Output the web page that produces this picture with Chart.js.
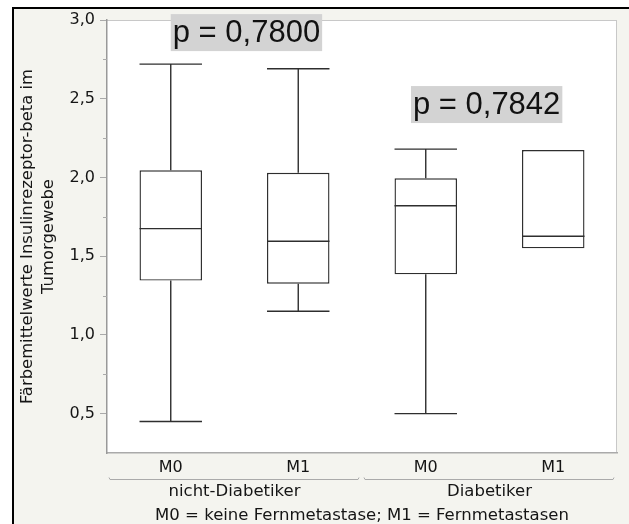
<!DOCTYPE html>
<html>
<head>
<meta charset="utf-8">
<script src="https://cdn.jsdelivr.net/npm/chart.js@4/dist/chart.umd.min.js"></script>
<style>
  html, body { margin: 0; padding: 0; background: #fff; }
  #frame {
    position: absolute; left: 12px; top: 7px; width: 617px; height: 517px;
    box-sizing: border-box; border-left: 2px solid #000; border-top: 2px solid #000;
    background: #f4f4ef;
  }
  #chart { position: absolute; left: 0; top: 0; }
</style>
</head>
<body>
<div id="frame"></div>
<canvas id="chart" width="629" height="524"></canvas>
<script>
const categories = ['M0', 'M1', 'M0', 'M1'];
const groups = ['nicht-Diabetiker', 'Diabetiker'];
const mins    = [0.45, 1.15, 0.50, 1.55];
const q1s     = [1.345, 1.325, 1.385, 1.55];
const medians = [1.675, 1.595, 1.82, 1.627];
const q3s     = [2.045, 2.03, 1.995, 2.174];
const maxs    = [2.72, 2.69, 2.18, 2.174];
const pLabels = ['p = 0,7800', 'p = 0,7842'];
const yTitle = ['Färbemittelwerte Insulinrezeptor-beta im', 'Tumorgewebe'];
const footer = 'M0 = keine Fernmetastase; M1 = Fernmetastasen';

Chart.defaults.font.family = '"DejaVu Sans", sans-serif';
Chart.defaults.font.size = 16;
Chart.defaults.color = '#151515';

const boxColor = '#2e2e2e';

function line(ctx, x1, y1, x2, y2) {
  ctx.beginPath();
  ctx.moveTo(x1, y1);
  ctx.lineTo(x2, y2);
  ctx.stroke();
}

// white plot area + light top/right frame
const plotBackground = {
  id: 'plotBackground',
  beforeDraw(chart) {
    const {ctx, chartArea: a} = chart;
    ctx.save();
    ctx.fillStyle = '#fff';
    ctx.fillRect(a.left, a.top, a.right - a.left, a.bottom - a.top);
    ctx.strokeStyle = '#c8c8c8';
    ctx.lineWidth = 1;
    line(ctx, a.left, a.top + 0.5, a.right, a.top + 0.5);
    line(ctx, a.right - 0.5, a.top, a.right - 0.5, a.bottom);
    ctx.restore();
  }
};

// whiskers, caps, medians, minor y ticks, group brackets, p labels
const boxPlotExtras = {
  id: 'boxPlotExtras',
  afterDatasetsDraw(chart) {
    const {ctx, scales: {x, y}} = chart;
    const bars = chart.getDatasetMeta(0).data;
    ctx.save();
    ctx.strokeStyle = boxColor;
    ctx.lineWidth = 1.4;
    bars.forEach((bar, i) => {
      const cx = x.getPixelForValue(i);
      const half = bar.width / 2;
      const yMed = y.getPixelForValue(medians[i]);
      line(ctx, cx - half, yMed, cx + half, yMed);
      if (maxs[i] > q3s[i]) {
        const yMax = y.getPixelForValue(maxs[i]);
        line(ctx, cx, y.getPixelForValue(q3s[i]), cx, yMax);
        line(ctx, cx - half, yMax, cx + half, yMax);
      }
      if (mins[i] < q1s[i]) {
        const yMin = y.getPixelForValue(mins[i]);
        line(ctx, cx, y.getPixelForValue(q1s[i]), cx, yMin);
        line(ctx, cx - half, yMin, cx + half, yMin);
      }
    });
    ctx.restore();
  },
  afterDraw(chart) {
    const {ctx, scales: {x, y, x2}} = chart;
    ctx.save();
    // minor ticks
    ctx.strokeStyle = '#aaa';
    ctx.lineWidth = 1;
    for (let v = 0.75; v < 3; v += 0.5) {
      const py = Math.round(y.getPixelForValue(v)) + 0.5;
      line(ctx, y.right - 4, py, y.right, py);
    }
    // group brackets
    const step = x.getPixelForValue(1) - x.getPixelForValue(0);
    const by = x2.top + 3.5;
    groups.forEach((g, gi) => {
      const x1 = x.getPixelForValue(gi * 2) - step / 2 + 2;
      const xe = x.getPixelForValue(gi * 2 + 1) + step / 2 - 3;
      ctx.beginPath();
      ctx.moveTo(x1, by - 2);
      ctx.lineTo(x1 + 1, by);
      ctx.lineTo(xe - 1, by);
      ctx.lineTo(xe, by - 2);
      ctx.stroke();
    });
    // p labels
    ctx.font = '31px "Liberation Sans", Arial, sans-serif';
    ctx.textBaseline = 'middle';
    const anchors = [[0, 2.92], [1.884, 2.463]];
    pLabels.forEach((txt, i) => {
      const px = x.getPixelForValue(anchors[i][0]);
      const py = y.getPixelForValue(anchors[i][1]);
      const w = ctx.measureText(txt).width;
      ctx.fillStyle = '#d3d3d3';
      ctx.fillRect(px, py - 18.5, w + 4, 37);
      ctx.fillStyle = '#111';
      ctx.fillText(txt, px + 2, py + 1);
    });
    ctx.restore();
  }
};

new Chart(document.getElementById('chart'), {
  type: 'bar',
  data: {
    labels: categories,
    datasets: [{
      data: q1s.map((q, i) => [q, q3s[i]]),
      backgroundColor: '#fff',
      borderColor: boxColor,
      borderWidth: 1.4,
      borderSkipped: false,
      barPercentage: 0.49,
      categoryPercentage: 1
    }]
  },
  options: {
    responsive: false,
    animation: false,
    devicePixelRatio: 1,
    layout: {padding: {left: 0, top: 20, right: 12, bottom: 0}},
    plugins: {legend: {display: false}, tooltip: {enabled: false}},
    scales: {
      x: {
        offset: true,
        grid: {display: false, drawTicks: false, tickLength: 0},
        border: {display: true, color: '#aaa', width: 1.5},
        ticks: {padding: 5, font: {size: 16}},
        afterFit: s => { s.height = 23; }
      },
      x2: {
        type: 'category',
        labels: groups,
        position: 'bottom',
        weight: 1,
        offset: true,
        grid: {display: false, drawTicks: false, tickLength: 0},
        border: {display: false},
        ticks: {padding: 6, font: {size: 16.5}},
        title: {display: true, text: footer, font: {size: 16.5, lineHeight: 1}, padding: {top: 0, bottom: 0}},
        afterFit: s => { s.height = 48; }
      },
      y: {
        min: 0.25,
        max: 3.0,
        ticks: {
          stepSize: 0.5,
          padding: 5,
          callback: v => v.toFixed(1).replace('.', ',')
        },
        afterBuildTicks: s => {
          s.ticks = s.ticks.filter(t => Math.abs(t.value * 2 - Math.round(t.value * 2)) < 1e-9);
        },
        grid: {drawOnChartArea: false, drawTicks: true, tickLength: 7, color: '#aaa'},
        border: {display: true, color: '#999', width: 1.5},
        title: {
          display: true,
          text: yTitle,
          font: {size: 16.4, lineHeight: 1.3},
          padding: {top: 17, bottom: 0}
        },
        afterFit: s => { s.width = 107; }
      }
    }
  },
  plugins: [plotBackground, boxPlotExtras]
});
</script>
</body>
</html>
